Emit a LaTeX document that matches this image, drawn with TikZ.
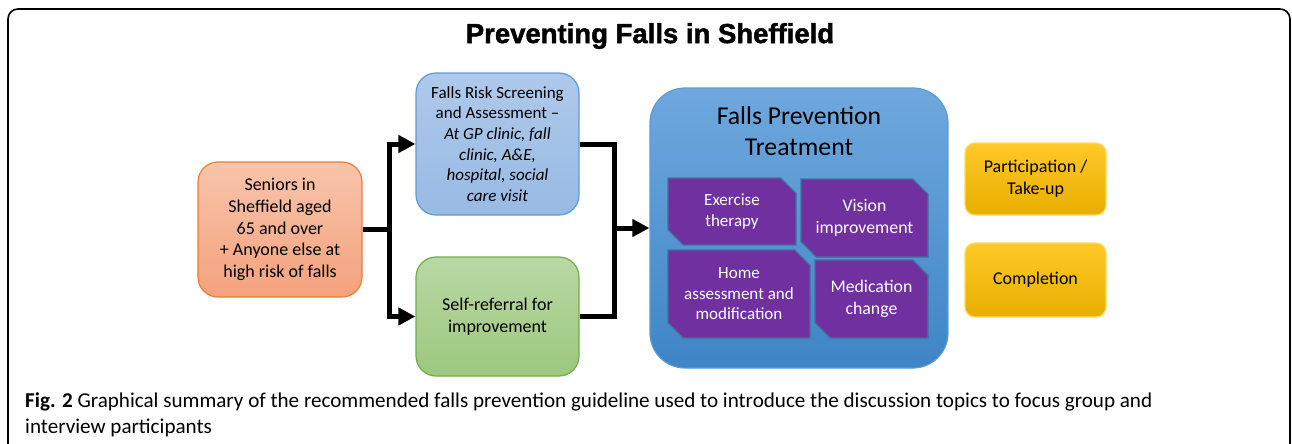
\documentclass[tikz,border=0pt]{standalone}
\usepackage{fontspec}
\setmainfont{Carlito}
\newfontfamily\titlefont{Liberation Sans Bold}[FakeBold=1.6]
\usetikzlibrary{arrows.meta,shapes.misc}

\definecolor{orangeline}{HTML}{ED7D31}
\definecolor{blueline}{HTML}{5B9BD5}
\definecolor{greenline}{HTML}{70AD47}
\definecolor{optpurple}{HTML}{7030A0}
\definecolor{optline}{HTML}{41719C}
\definecolor{goldline}{HTML}{FFD966}

\tikzset{
  box/.style={draw, line width=1.2pt, align=center, inner sep=0pt,
    font=\fontsize{18}{21.7}\selectfont},
  seniorsbox/.style={box, draw=orangeline, top color={rgb,255:red,248;green,196;blue,172},
    bottom color={rgb,255:red,244;green,162;blue,124}, rounded corners=20pt},
  screenbox/.style={box, draw=blueline, top color={rgb,255:red,174;green,201;blue,235},
    bottom color={rgb,255:red,152;green,186;blue,227}, rounded corners=20pt,
    font=\fontsize{17}{20.7}\selectfont},
  selfbox/.style={box, draw=greenline, top color={rgb,255:red,185;green,216;blue,165},
    bottom color={rgb,255:red,156;green,200;blue,126}, rounded corners=20pt},
  treatbox/.style={draw=blueline, line width=1.2pt, top color={rgb,255:red,111;green,168;blue,222},
    bottom color={rgb,255:red,62;green,133;blue,198}, rounded corners=35pt, inner sep=0pt},
  optionbox/.style={draw=optline, line width=1.2pt, fill=optpurple, text=white,
    chamfered rectangle, chamfered rectangle corners={north east,south west},
    chamfered rectangle xsep=12pt, chamfered rectangle angle=45,
    align=center, inner sep=0pt, font=\fontsize{17}{20.5}\selectfont},
  outcomebox/.style={box, draw=goldline, top color={rgb,255:red,255;green,201;blue,40},
    bottom color={rgb,255:red,232;green,174;blue,0}, rounded corners=10pt},
  link/.style={line width=5pt, black},
  linkarrow/.style={link, -{Triangle[length=17pt,width=17pt]}},
}

\begin{document}
\begin{tikzpicture}[x=1pt, y=-1pt]
\useasboundingbox (0,0) rectangle (1292,444);

\draw[line width=1.6pt, rounded corners=10pt] (8,460) -- (8,9) -- (1290,9) -- (1290,460);

\node (title) at (650,36) {\titlefont\fontsize{27.5}{30}\selectfont Preventing Falls in Sheffield};

\node[seniorsbox, minimum width=164pt, minimum height=135pt] (seniors) at (280,229.5)
  {Seniors in\\Sheffield aged\\65 and over\\+ Anyone else at\\high risk of falls};
\node[screenbox, minimum width=163pt, minimum height=142pt] (screen) at (497.5,144)
  {Falls Risk Screening\\and Assessment --\\\itshape At GP clinic, fall\\\itshape clinic, A\&E,\\\itshape hospital, social\\\itshape care visit};
\node[selfbox, minimum width=163pt, minimum height=119pt] (selfref) at (497.5,316.5)
  {Self-referral for\\improvement};

\node[treatbox, minimum width=298pt, minimum height=280pt] (treat) at (799,228) {};
\node[align=center, font=\fontsize{25.7}{31}\selectfont] (treathead) at (799,131)
  {Falls Prevention\\Treatment};

\node[optionbox, minimum width=128pt, minimum height=67pt] (exercise) at (732,211.5)
  {Exercise\\therapy};
\node[optionbox, minimum width=127pt, minimum height=78pt, font=\fontsize{17.8}{21.5}\selectfont] (vision) at (864.5,218)
  {Vision\\improvement};
\node[optionbox, minimum width=142pt, minimum height=88pt] (home) at (739,294)
  {Home\\assessment and\\modification};
\node[optionbox, minimum width=113pt, minimum height=78pt, font=\fontsize{17.8}{21.5}\selectfont] (medication) at (871.5,299)
  {Medication\\change};

\node[outcomebox, minimum width=141pt, minimum height=72pt] (takeup) at (1035.5,179)
  {Participation /\\Take-up};
\node[outcomebox, minimum width=141pt, minimum height=74pt] (completion) at (1035.5,280)
  {Completion};

% -------- connectors -----------
\coordinate (split) at (389,229.5);
\coordinate (join) at (614,228);
\draw[link] (seniors.east) -- (split);
\draw[linkarrow] (split) |- (screen.west);
\draw[linkarrow] (split) |- (selfref.west);
\draw[link] (screen.east) -| (join);
\draw[link] (selfref.east) -| (join);
\draw[linkarrow] (join) -- (treat.west);

\node[anchor=base west, align=left, inner sep=0pt, font=\fontsize{21.1}{26.5}\selectfont] (caption) at (25,433.5)
  {\textbf{Fig. 2} Graphical summary of the recommended falls prevention guideline used to introduce the discussion topics to focus group and\\
   interview participants};
\end{tikzpicture}
\end{document}
